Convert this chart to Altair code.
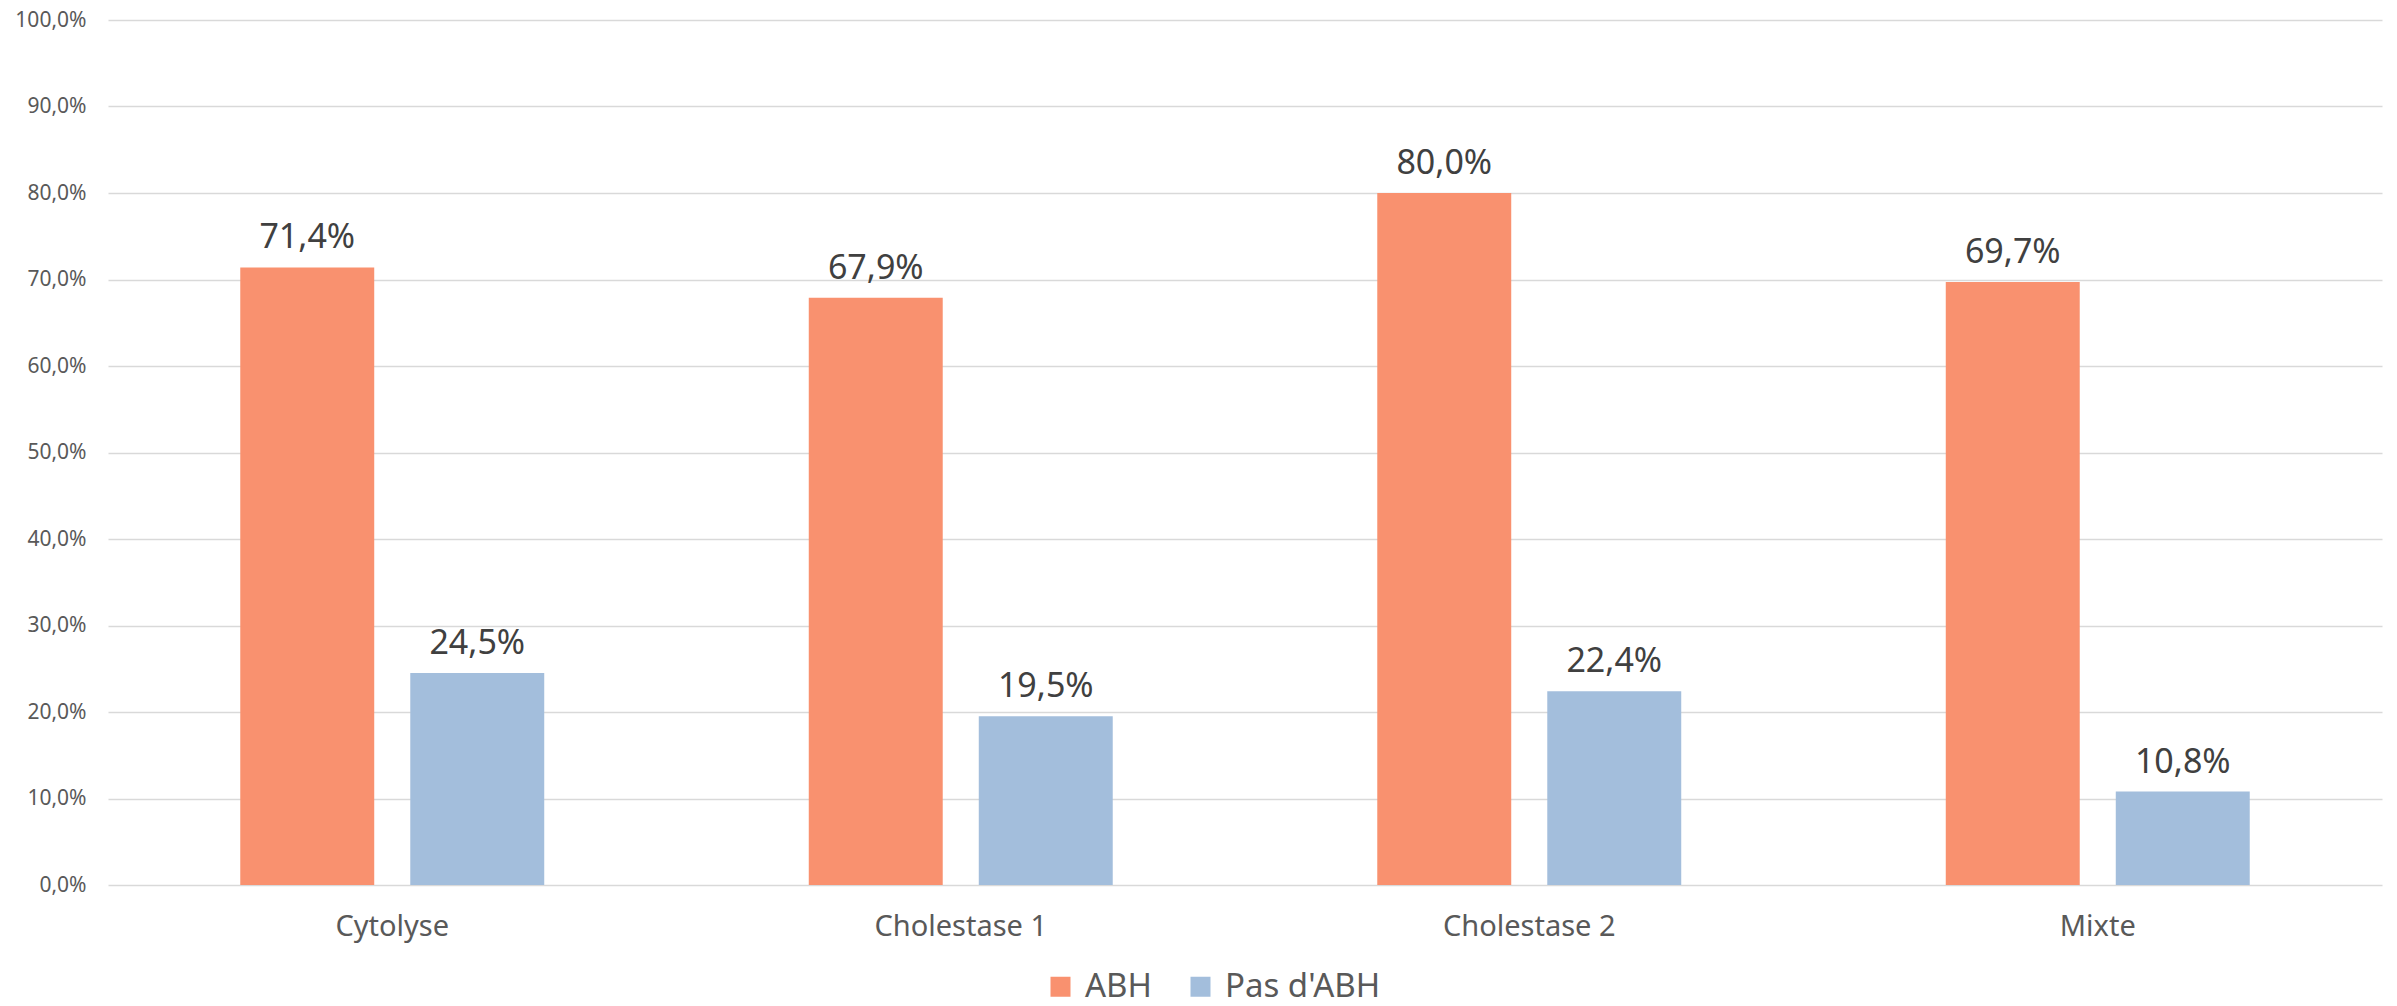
import altair as alt
import pandas as pd

categories = ["Cytolyse", "Cholestase 1", "Cholestase 2", "Mixte"]
series = ["ABH", "Pas d'ABH"]
abh = [71.4, 67.9, 80.0, 69.7]
pas_abh = [24.5, 19.5, 22.4, 10.8]
colors = ["#F9916F", "#A3BEDC"]

rows = []
for c, a, p in zip(categories, abh, pas_abh):
    rows.append({"cat": c, "serie": series[0], "val": a})
    rows.append({"cat": c, "serie": series[1], "val": p})
df = pd.DataFrame(rows)

FONT = "Noto Sans"

base = alt.Chart(df).encode(
    x=alt.X("cat:N", sort=categories,
            scale=alt.Scale(paddingInner=0, paddingOuter=0),
            axis=alt.Axis(title=None, labelAngle=0, labelFontSize=29, labelColor="#595959",
                          labelFont=FONT, labelPadding=27, ticks=False, domain=False,
                          grid=False, labelBaseline="top")),
    xOffset=alt.XOffset("serie:N", sort=series,
                        scale=alt.Scale(domain=series, paddingInner=0.212, paddingOuter=0.778)),
)

bars = base.mark_bar().encode(
    y=alt.Y("val:Q", scale=alt.Scale(domain=[0, 100]),
            axis=alt.Axis(title=None, values=list(range(0, 101, 10)),
                          labelExpr="replace(format(datum.value, '.1f'), '.', ',') + '%'",
                          labelFontSize=21, labelColor="#595959", labelFont=FONT,
                          labelPadding=22, ticks=False, domain=False,
                          grid=True, gridColor="#D9D9D9", gridWidth=1.5)),
    color=alt.Color("serie:N", sort=series,
                    scale=alt.Scale(domain=series, range=colors),
                    legend=alt.Legend(title=None, orient="none", direction="horizontal",
                                      legendX=936, legendY=950,
                                      symbolType="square", symbolSize=400,
                                      symbolStrokeWidth=0,
                                      labelFontSize=33, labelFont=FONT, labelColor="#595959",
                                      labelOffset=8, columnPadding=32)),
)

labels = base.transform_calculate(
    lab="replace(format(datum.val, '.1f'), '.', ',') + '%'"
).mark_text(fontSize=34, font=FONT, color="#404040", baseline="alphabetic", dy=-19).encode(
    y=alt.Y("val:Q"),
    text="lab:N",
)

chart = alt.layer(bars, labels).properties(
    width=2274, height=865,
    background="white",
    autosize=alt.AutoSizeParams(type="none"),
    padding={"left": 108, "top": 20, "right": 15, "bottom": 121},
).configure_view(stroke=None, strokeWidth=0)

chart.save("out.html", embed_options={"renderer": "svg", "actions": False})
